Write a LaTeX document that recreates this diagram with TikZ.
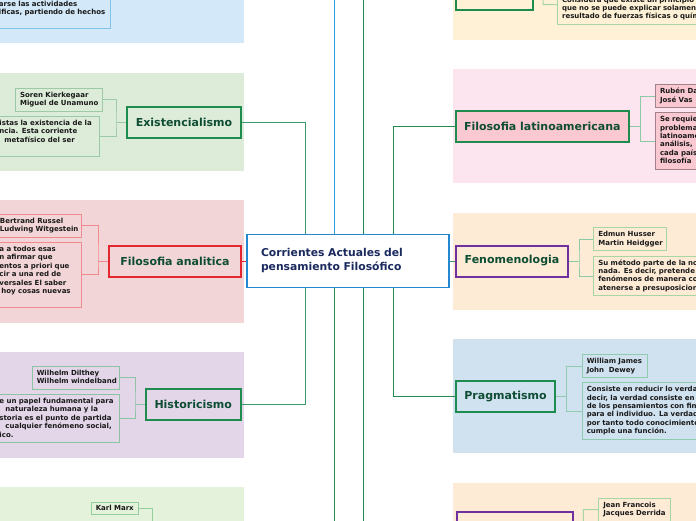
\documentclass[tikz,border=0pt]{standalone}
\usepackage{fontspec}
\setmainfont{DejaVu Sans}
\definecolor{pbl}{HTML}{D3E8F8}
\definecolor{pgr}{HTML}{DDECD9}
\definecolor{ppk}{HTML}{F2D5D6}
\definecolor{ppu}{HTML}{E2D6E8}
\definecolor{plg}{HTML}{E5F2DB}
\definecolor{qye}{HTML}{FEF1D5}
\definecolor{qpk}{HTML}{FCE5EE}
\definecolor{qpe}{HTML}{FDEBD6}
\definecolor{qbl}{HTML}{D0E1EF}
\definecolor{lapk}{HTML}{F9C8D0}
\definecolor{rootblue}{HTML}{2388D0}
\definecolor{roottext}{HTML}{1A2A5E}
\definecolor{topictext}{HTML}{0E4D33}
\definecolor{tgreen}{HTML}{1E8C4E}
\definecolor{tred}{HTML}{E32630}
\definecolor{tpurple}{HTML}{7030A0}
\definecolor{lblue}{HTML}{2A9BE0}
\definecolor{lgreen}{HTML}{3A9A6C}
\definecolor{ldark}{HTML}{1F8B4C}
\definecolor{pol}{HTML}{82C3EC}
\definecolor{exl}{HTML}{9CCAA6}
\definecolor{anl}{HTML}{F2898E}
\definecolor{hil}{HTML}{8DC2A4}
\definecolor{kml}{HTML}{93CF9D}
\definecolor{lal}{HTML}{A38189}
\definecolor{lak}{HTML}{8CC9A4}
\definecolor{fel}{HTML}{A9D5A3}
\definecolor{prl}{HTML}{8FCBAD}
\newcommand\leaflines[1]{\begin{tabular}{@{}l@{}}#1\end{tabular}}
\tikzset{
  topic/.style={draw=#1, line width=2pt, text=topictext, font=\bfseries\fontsize{11}{13}\selectfont, minimum height=31pt, inner sep=0pt},
  leaf/.style={draw=#1, line width=1.1pt, text=black!90, font=\bfseries\fontsize{7}{8.4}\selectfont, inner xsep=4.5pt, inner ysep=3pt},
  link/.style={draw=#1, line width=1pt},
}
\begin{document}
\begin{tikzpicture}[x=1pt,y=-1pt]
        \useasboundingbox (0,0) rectangle (696,520);
        \clip (0,0) rectangle (696,520);
        \foreach \ya/\yb/\col in {-5/43.3/pbl, 73.3/170.7/pgr, 200/322.7/ppk, 351.7/457.7/ppu, 486.7/525/plg}{
            \fill[\col] (0,\ya) rectangle (244,\yb);
        }
        \foreach \ya/\yb/\col in {-5/40/qye, 69/183.3/qpk, 212.7/310/qpe, 339/453.3/qbl, 482.7/525/qpe}{
            \fill[\col] (453.3,\ya) rectangle (700,\yb);
        }
        \node[draw=rootblue, line width=1.8pt, fill=white, text=roottext, font=\bfseries\fontsize{10.8}{14}\selectfont, align=left, text width=174pt, inner xsep=14pt, minimum height=53pt] (root) at (348,261) {Corrientes Actuales del\\ pensamiento Filosófico};
        % left side
        \node[leaf=pol, fill=pbl, text width=107pt, anchor=south east] (po1) at (111,29.3) {\leaflines{arse las actividades\\ ificas, partiendo de hechos\\ {}}};
        \node[topic=tgreen, fill=pgr, minimum width=114pt] (ex) at (184,122) {Existencialismo};
        \node[leaf=exl, fill=pgr, text width=77.7pt, anchor=north west] (ex1) at (15,88) {\leaflines{Soren Kierkegaar\\ Miguel de Unamuno}};
        \node[leaf=exl, fill=pgr, text width=95.5pt, anchor=north east] (ex2) at (100,116) {\leaflines{istas la existencia de la\\ ncia. Esta corriente\\ \hspace*{5pt}metafísico del ser\\ {}}};
        \node[topic=tred, fill=ppk, minimum width=132pt] (an) at (175,261) {Filosofia analitica};
        \node[leaf=anl, fill=ppk, text width=77pt, anchor=north east] (an1) at (82,214) {\leaflines{Bertrand Russel\\ Ludwing Witgestein}};
        \node[leaf=anl, fill=ppk, text width=77.5pt, anchor=north east] (an2) at (82,242) {\leaflines{a a todos esas\\ n afirmar que\\ entos a priori que\\ cir a una red de\\ versales El saber\\ \hspace*{2pt}hoy cosas nuevas\\ {}}};
        \node[topic=tgreen, fill=ppu, minimum width=95pt] (hi) at (193.2,404.5) {Historicismo};
        \node[leaf=hil, fill=ppu, text width=78.6pt, anchor=north west] (hi1) at (31.7,366) {\leaflines{Wilhelm Dilthey\\ Wilhelm windelband}};
        \node[leaf=hil, fill=ppu, text width=115.5pt, anchor=north east] (hi2) at (120,394) {\leaflines{e un papel fundamental para\\ \hspace*{6pt}naturaleza humana y la\\ storia es el punto de partida\\ \hspace*{6pt}cualquier fenómeno social,\\ ico.}};
        \node[leaf=kml, fill=plg, text width=38.3pt, inner ysep=2pt, anchor=north west] (km1) at (90.7,501.7) {\leaflines{Karl Marx}};
        % right side
        \node[topic=tgreen, fill=qye, minimum width=76.7pt, anchor=south west] (trt) at (455,10.7) {};
        \node[leaf=fel, fill=qye, text width=200pt, anchor=south west] (tr1) at (557,25) {\leaflines{{}\\ Considera que existe un principio\\ que no se puede explicar solamen\\ resultado de fuerzas físicas o quím}};
        \node[topic=tgreen, fill=lapk, minimum width=173.3pt] (la) at (542.3,126.2) {Filosofia latinoamericana};
        \node[leaf=lal, fill=lapk, text width=100pt, anchor=north west] (la1) at (655,84.3) {\leaflines{Rubén Da\\ José Vas}};
        \node[leaf=lal, fill=lapk, text width=100pt, anchor=north west] (la2) at (655,112.3) {\leaflines{Se requie\\ problema\\ latinoame\\ análisis,\\ cada país\\ filosofía}};
        \node[topic=tpurple, fill=qpe, minimum width=112.6pt] (fe) at (512,261) {Fenomenologia};
        \node[leaf=fel, fill=qpe, text width=63.4pt, anchor=north west] (fe1) at (593.3,227.3) {\leaflines{Edmun Husser\\ Martin Heidgger}};
        \node[leaf=fel, fill=qpe, text width=200pt, anchor=north west] (fe2) at (593.3,255.7) {\leaflines{Su método parte de la no\\ nada. Es decir, pretende\\ fenómenos de manera co\\ atenerse a presuposicion}};
        \node[topic=tgreen, fill=qbl, minimum width=99.6pt] (pr) at (505.5,396.2) {Pragmatismo};
        \node[leaf=prl, fill=qbl, text width=56pt, anchor=north west] (pr1) at (581.7,354.3) {\leaflines{William James\\ John\ \ Dewey}};
        \node[leaf=prl, fill=qbl, text width=200pt, anchor=north west] (pr2) at (581.7,382.3) {\leaflines{Consiste en reducir lo verda\\ decir, la verdad consiste en\\ de los pensamientos con fin\\ para el individuo. La verdad\\ por tanto todo conocimiento\\ cumple una función.}};
        \node[topic=tpurple, fill=qpe, minimum width=116.6pt, anchor=north west] (pm) at (455.7,510.7) {};
        \node[leaf=fel, fill=qpe, text width=62.7pt, anchor=north west] (pm1) at (598.3,497.7) {\leaflines{Jean Francois\\ Jacques Derrida}};
        % connectors
        \coordinate (poend) at (334,-10);
        \coordinate (mxend) at (334,530);
        \coordinate (lx) at (305,0);
        \coordinate (rx) at (393,0);
        \coordinate (rx2) at (363,0);
        \draw[link=lblue] (root.north -| poend) -- (poend);
        \draw[link=ldark] (root.south -| mxend) -- (mxend);
        \draw[link=ldark] (root.north -| rx2) |- (trt.west);
        \draw[link=ldark] (root.south -| rx2) |- (pm.west);
        \draw[link=lgreen] (root.north -| lx) |- (ex.east);
        \draw[link=lgreen] (root.south -| lx) |- (hi.east);
        \draw[link=tred] (an.east) -- (root.west);
        \draw[link=ldark] (root.north -| rx) |- (la.west);
        \draw[link=ldark] (root.south -| rx) |- (pr.west);
        \draw[link=lgreen] (root.east) -- (fe.west);
        \coordinate (exb) at (116,122);
        \draw[link=exl] (ex1.east) -| (exb) |- (ex2.east);
        \draw[link=exl] (exb) -- (ex.west);
        \coordinate (anb) at (98,261);
        \draw[link=anl] (an1.east) -| (anb) |- (an2.east);
        \draw[link=anl] (anb) -- (an.west);
        \coordinate (hib) at (135,404.5);
        \draw[link=hil] (hi1.east) -| (hib) |- (hi2.east);
        \draw[link=hil] (hib) -- (hi.west);
        \coordinate (kmb) at (152,530);
        \draw[link=kml] (km1.east) -| (kmb);
        \coordinate (trb) at (543,-4.8);
        \draw[link=fel] (trt.east) -- (trb) |- (tr1.west);
        \coordinate (lab) at (640.7,126.2);
        \draw[link=lak] (la1.west) -| (lab) |- (la2.west);
        \draw[link=lak] (lab) -- (la.east);
        \coordinate (feb) at (579,261);
        \draw[link=lak] (fe1.west) -| (feb) |- (fe2.west);
        \draw[link=lak] (feb) -- (fe.east);
        \coordinate (prb) at (566.7,396.2);
        \draw[link=prl] (pr1.west) -| (prb) |- (pr2.west);
        \draw[link=prl] (prb) -- (pr.east);
        \coordinate (pmb) at (583.3,526.2);
        \draw[link=fel] (pm1.west) -| (pmb) -- (pm.east);
\end{tikzpicture}
\end{document}
